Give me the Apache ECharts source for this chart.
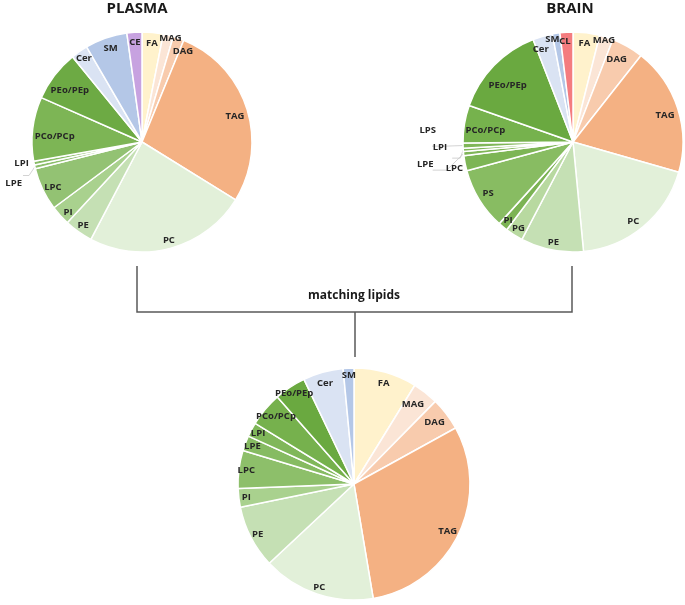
<!DOCTYPE html>
<html><head><meta charset="utf-8">
<script src="https://cdn.jsdelivr.net/npm/echarts@6/dist/echarts.min.js"></script>
<style>html,body{margin:0;padding:0;background:#fff}#c{width:685px;height:605px}</style>
</head><body><div id="c"></div>
<script>
// ---- data (percent of lipid classes) ----
const plasmaCategories = ['FA','MAG','DAG','TAG','PC','PE','PI','LPC','LPE','LPI','PCo/PCp','PEo/PEp','Cer','SM','CE'];
const plasmaValues     = [3.1, 1.5, 1.6, 27.6, 23.9, 4.2, 2.9, 6.3, 0.55, 0.55, 9.4, 7.5, 2.5, 6.2, 2.2];

const brainCategories = ['FA','MAG','DAG','TAG','PC','PE','PG','PI','PS','LPC','LPE','LPI','LPS','PCo/PCp','PEo/PEp','Cer','SM','CL'];
const brainValues     = [3.9, 2.0, 4.7, 18.8, 19.0, 9.2, 2.6, 1.4, 9.1, 2.2, 0.6, 0.5, 0.75, 5.5, 13.7, 2.9, 1.1, 1.9];

const matchCategories = ['FA','MAG','DAG','TAG','PC','PE','PI','LPC','LPE','LPI','PCo/PCp','PEo/PEp','Cer','SM'];
const matchValues     = [8.8, 3.6, 4.6, 30.4, 15.7, 8.75, 2.6, 5.3, 2.1, 2.0, 4.75, 4.4, 5.6, 1.5];

const titles = ['PLASMA', 'BRAIN', 'matching lipids'];

// ---- styles ----
const plasmaColors = ['#FFF2CC','#FBE5D6','#F8CBAD','#F4B183','#E2F0D9','#C5E0B4','#A9D18E','#93C273','#8CBE6B','#88BC66','#7DB555','#6DAA44','#DAE3F3','#B4C7E7','#C7A2E0'];
const brainColors  = ['#FFF2CC','#FBE5D6','#F8CBAD','#F4B183','#E2F0D9','#C5E0B4','#B8D9A0','#7CB354','#88BC62','#7DB555','#80B658','#82B75A','#7FB657','#76B24D','#6AA940','#DAE3F3','#B4C7E7','#F47C7F'];
const matchColors  = ['#FFF2CC','#FBE5D6','#F8CBAD','#F4B183','#E2F0D9','#C5E0B4','#A9D18E','#8DBF6A','#86BB62','#80B75A','#76B14D','#6AA940','#DAE3F3','#B4C7E7'];

// label nudges (style only), keyed by series slot
const labelNudges = [
  {'LPE': [0, 8]},
  {'PCo/PCp': [14, 6], 'PEo/PEp': [9, 10], 'TAG': [-4, 6], 'MAG': [4, -5], 'DAG': [7, 5], 'SM': [2, 3],
   'LPC': [3, 2], 'PI': [2, 2], 'FA': [0, 3], 'CE': [0, 2]},
  {'LPS': [5, -16], 'LPI': [-4, -11], 'LPE': [2, -6], 'LPC': [3, -14]},
  {'PEo/PEp': [8, 14], 'PCo/PCp': [13, 5], 'TAG': [-5, 5], 'PC': [-5, 1], 'Cer': [-4, 5], 'SM': [-5, -2],
   'MAG': [0, -5], 'DAG': [-7, 6], 'FA': [-1, 3], 'CL': [-2, 1], 'PS': [2, -2]},
  {},
  {'MAG': [-8, 6], 'DAG': [-6, 4], 'FA': [0, 4], 'Cer': [0, 4], 'TAG': [-4, 0], 'PCo/PCp': [5, 2]}
];

const labelFont = {fontFamily:'Open Sans', fontWeight:'bold', fontSize:9.5, color:'#262626'};

function nudgeLayout(slot) {
  return function (p) {
    const n = labelNudges[slot][p.text] || [0, 0];
    return {dx: n[0], dy: n[1], hideOverlap: false, moveOverlap: false};
  };
}

function buildPie(slot, cats, vals, colors, center, r, outside, labelFrac) {
  const base = cats.map((c, i) => ({name: c, value: vals[i], itemStyle: {color: colors[i]}}));
  const main = {
    type: 'pie', center: center, radius: [0, r], startAngle: 90, clockwise: true,
    avoidLabelOverlap: true,
    itemStyle: {borderColor: '#fff', borderWidth: 1.5},
    label: Object.assign({show: false}, labelFont),
    labelLine: {show: false},
    labelLayout: nudgeLayout(slot),
    emphasis: {disabled: true},
    data: base.map(d => {
      const o = outside[d.name];
      if (!o) return d;
      return Object.assign({}, d, {
        label: Object.assign({show: true, position: 'outside', distanceToLabelLine: 1, overflow: 'none', width: 40}, labelFont),
        labelLine: {show: o.line, length: o.l1, length2: o.l2, lineStyle: {color: '#c8c8c8', width: 0.8}}
      });
    })
  };
  const ghost = {
    type: 'pie', center: center, radius: [0, r * 2 * labelFrac], startAngle: 90, clockwise: true,
    silent: true, avoidLabelOverlap: false,
    itemStyle: {color: 'rgba(0,0,0,0)', borderWidth: 0},
    label: Object.assign({show: true, position: 'inside'}, labelFont),
    labelLine: {show: false},
    labelLayout: nudgeLayout(slot + 1),
    emphasis: {disabled: true},
    data: base.map(d => ({name: d.name, value: d.value, itemStyle: {color: 'rgba(0,0,0,0)'},
                          label: {show: !outside[d.name]}}))
  };
  return [main, ghost];
}

const chart = echarts.init(document.getElementById('c'), null, {renderer: 'canvas'});
const series = [].concat(
  buildPie(0, plasmaCategories, plasmaValues, plasmaColors, [142, 142], 110,
           {'LPI': {line: false, l1: 2, l2: 2}, 'LPE': {line: true, l1: 6, l2: 6}}, 0.9),
  buildPie(2, brainCategories, brainValues, brainColors, [573, 142], 110,
           {'LPC': {line: false, l1: 2, l2: 2}, 'LPE': {line: true, l1: 18, l2: 14},
            'LPI': {line: true, l1: 4, l2: 8}, 'LPS': {line: true, l1: 18, l2: 14}}, 0.9),
  buildPie(4, matchCategories, matchValues, matchColors, [354, 484], 116, {}, 0.91)
);

const lineStyle = {stroke: '#595959', lineWidth: 1.5};
chart.setOption({
  animation: false,
  backgroundColor: '#fff',
  series: series,
  graphic: [
    {type: 'text', style: {text: titles[0], x: 137, y: 9, textAlign: 'center', textVerticalAlign: 'middle', font: 'bold 15px "Open Sans"', fill: '#1a1a1a'}},
    {type: 'text', style: {text: titles[1], x: 570, y: 9, textAlign: 'center', textVerticalAlign: 'middle', font: 'bold 15px "Open Sans"', fill: '#1a1a1a'}},
    {type: 'text', style: {text: titles[2], x: 354, y: 296, textAlign: 'center', textVerticalAlign: 'middle', font: 'bold 12px "Open Sans"', fill: '#1a1a1a'}},
    {type: 'polyline', shape: {points: [[137, 266], [137, 312], [572, 312], [572, 266]]}, style: Object.assign({fill: null}, lineStyle)},
    {type: 'line', shape: {x1: 355, y1: 312, x2: 355, y2: 357}, style: lineStyle}
  ]
});
</script>
</body></html>
